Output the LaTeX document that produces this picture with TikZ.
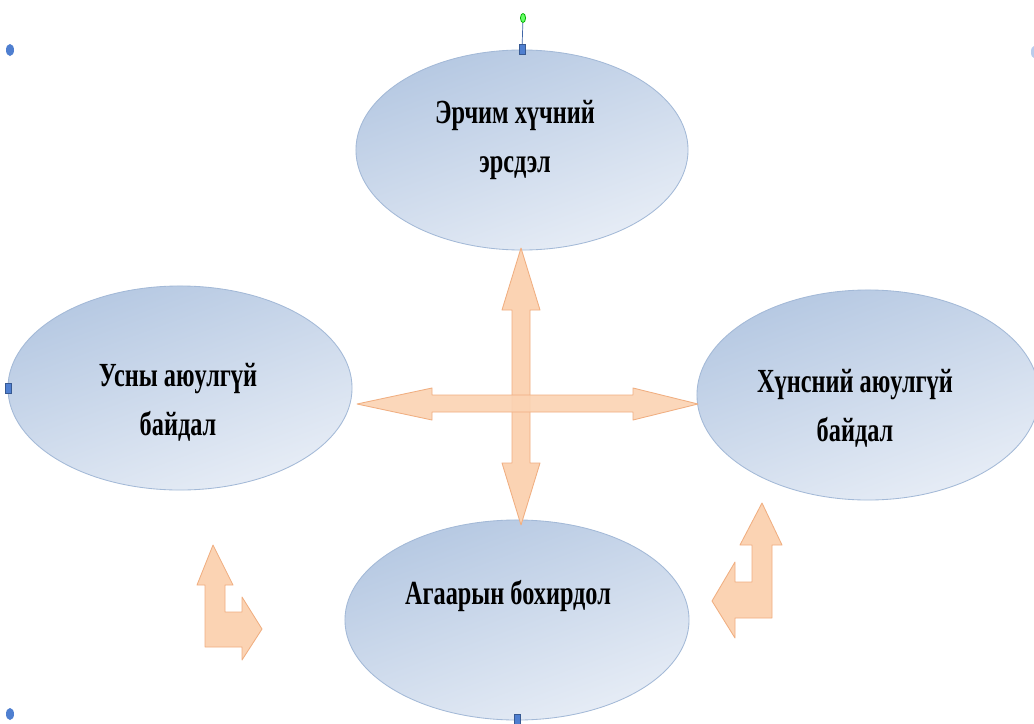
\documentclass[tikz,border=0pt]{standalone}
\usepackage{fontspec}
\newfontfamily\mnfont[FakeStretch=0.72]{Liberation Serif}
\usetikzlibrary{shapes.geometric, calc}

\definecolor{ellTop}{HTML}{B5C8E2}
\definecolor{ellBot}{HTML}{E7EDF6}
\definecolor{ellEdge}{HTML}{A3B9D7}
\definecolor{arrFill}{HTML}{FBD3B3}
\definecolor{arrEdge}{HTML}{F0AE80}
\definecolor{hdl}{HTML}{4F7FD0}

\tikzset{
  blob/.style={ellipse, draw=ellEdge, line width=0.6pt, top color=ellTop,
    bottom color=ellBot, shading angle=20, inner sep=0pt},
  lbl/.style={font=\mnfont\bfseries\fontsize{24}{35}\selectfont, align=center},
  blockarr/.style={fill=arrFill, draw=arrEdge, line width=0.6pt, line join=round},
  hbox/.style={fill=hdl, draw=hdl!70!black, line width=0.3pt}
}

\begin{document}
\begin{tikzpicture}[x=0.025cm, y=-0.025cm]
  \clip (0,0) rectangle (1034,724);
  \fill[white] (0,0) rectangle (1034,724);

  % ellipses
  \node[blob, minimum width=8.3cm, minimum height=5cm]    (energy) at (522,150) {};
  \node[blob, minimum width=8.6cm, minimum height=5.1cm]  (water)  at (180,388) {};
  \node[blob, minimum width=8.55cm, minimum height=5.25cm] (food)  at (868,395) {};
  \node[blob, minimum width=8.6cm, minimum height=5cm]    (air)    at (517,620) {};

  \node[lbl] (energyT) at (515,140) {Эрчим хүчний\\эрсдэл};
  \node[lbl] (waterT)  at (178,402) {Усны аюулгүй\\байдал};
  \node[lbl] (foodT)   at (855,408) {Хүнсний аюулгүй\\байдал};
  \node[lbl] (airT)    at (508,596) {Агаарын бохирдол};

  % cross arrows
  \draw[blockarr] (521,248) -- (540,310) -- (530,310) -- (530,463) -- (540,463)
    -- (521,525) -- (502,463) -- (512,463) -- (512,310) -- (502,310) -- cycle;
  \draw[blockarr, fill opacity=0.9] (357,404) -- (432,388) -- (432,395) -- (633,395)
    -- (633,388) -- (698,404) -- (633,420) -- (633,412) -- (432,412) -- (432,420) -- cycle;

  % bent arrows
  \draw[blockarr] (213,545) -- (233,585) -- (225,585) -- (225,612) -- (242,612)
    -- (242,597) -- (262,629) -- (242,660) -- (242,647) -- (205,647) -- (205,585)
    -- (197,585) -- cycle;
  \draw[blockarr] (762,503) -- (782,545) -- (772,545) -- (772,618) -- (735,618)
    -- (735,638) -- (712,601) -- (735,562) -- (735,582) -- (752,582) -- (752,545)
    -- (740,545) -- cycle;

  % selection handles
  \coordinate (rot) at (523,18);
  \draw[hdl!80!black, line width=0.5pt] (rot) -- (energy.north);
  \fill[green!70!black] (rot) ellipse (3 and 5);
  \fill[green!60] (rot) ellipse (2 and 4);
  \draw[hbox] ($(energy.north)+(-3,-5)$) rectangle ($(energy.north)+(3,5)$);
  \draw[hbox] ($(air.south)+(-3,-6)$) rectangle ($(air.south)+(3,4)$);
  \draw[hbox] ($(water.west)+(-2,-5)$) rectangle ($(water.west)+(4,5)$);
  \fill[hdl] (10,50) ellipse (4 and 6);
  \fill[hdl] (10,714) ellipse (4 and 6);
  \fill[hdl!40] (1034,52) ellipse (3 and 6);
\end{tikzpicture}
\end{document}
